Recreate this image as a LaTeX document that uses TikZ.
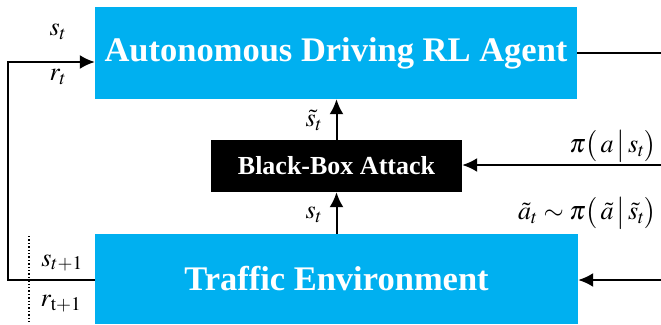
\documentclass[tikz,border=0pt]{standalone}
\usepackage{mathptmx}
\usepackage[no-math]{fontspec}
\setmainfont{Liberation Serif}[BoldFont={Liberation Serif Bold},ItalicFont={Liberation Serif Italic}]
\newfontfamily\boxfont{Liberation Serif Bold}
\usetikzlibrary{arrows.meta}
\definecolor{boxblue}{HTML}{00B0F0}
\tikzset{
  bluebox/.style={draw=none, fill=boxblue, text=white, font=\boxfont\fontsize{34.5}{38}\selectfont, inner sep=0pt},
  blackbox/.style={draw=none, fill=black, text=white, font=\boxfont\fontsize{26}{30}\selectfont, inner sep=0pt},
  conn/.style={line width=2pt, -{Latex[length=15pt,width=14pt]}},
  plain/.style={line width=2pt},
  lbl/.style={font=\fontsize{26}{30}\selectfont, inner sep=0pt}
}
\begin{document}
\begin{tikzpicture}[x=1pt,y=-1pt]
\useasboundingbox (0,0) rectangle (661,324);
\node[bluebox, minimum width=482pt, minimum height=92pt] (agent) at (336,53) {Autonomous Driving RL Agent};
\node[bluebox, minimum width=483pt, minimum height=90pt] (env) at (336.5,279) {Traffic Environment};
\node[blackbox, minimum width=251pt, minimum height=52pt] (bba) at (336.5,166) {Black-Box Attack};
\coordinate (r1) at (661,53);
\coordinate (r2) at (661,165);
\coordinate (r3) at (661,280);
\coordinate (l1) at (8,280);
\coordinate (l2) at (8,62);
\coordinate (d1) at (29,236);
\coordinate (d2) at (29,324);
\draw[conn] (env.north -| bba.south) -- (bba.south);
\draw[conn] (bba.north) -- (bba.north |- agent.south);
\draw[plain] (agent.east |- r1) -- (r1);
\draw[conn] (r2) -- (bba.east |- r2);
\draw[conn] (r3) -- (env.east |- r3);
\draw[conn] (env.west |- l1) -- (l1) -- (l2) -- (agent.west |- l2);
\draw[line width=1.4pt, dotted] (d1) -- (d2);
\node[lbl] (st1) at (58,32) {$s_t$};
\node[lbl] (rt1) at (58,77) {$r_t$};
\node[lbl] (st2) at (62,263) {$s_{t+1}$};
\node[lbl] (rt2) at (61,304) {$r_{\mathrm{t}+1}$};
\node[lbl] (sts) at (314,120) {$\tilde{s}_t$};
\node[lbl] (stb) at (314,215) {$s_t$};
\node[lbl, anchor=east] (pi1) at (657,146) {$\pi\bigl(\,a\,\big|\,s_t\bigr)$};
\node[lbl, anchor=east] (pi2) at (657,213) {$\tilde{a}_t\sim\pi\bigl(\,\tilde{a}\,\big|\,\tilde{s}_t\bigr)$};
\end{tikzpicture}
\end{document}
